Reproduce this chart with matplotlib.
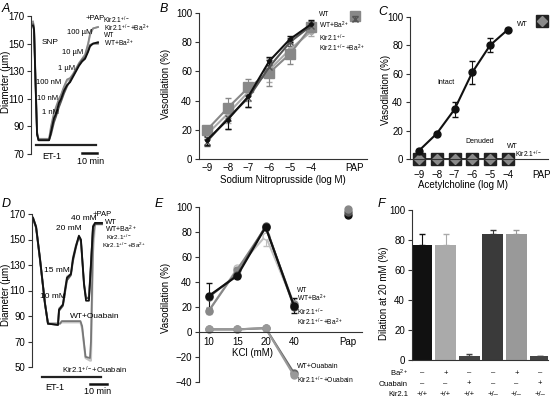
import matplotlib
matplotlib.use('Agg')
import matplotlib.pyplot as plt
import matplotlib.transforms as mtransforms

plt.rcParams['font.family'] = ['Liberation Sans', 'DejaVu Sans']
plt.rcParams['mathtext.default'] = 'regular'
plt.rcParams['font.size'] = 7

W, H = 553, 401

# ---- panel A: SNP diameter traces (time in min) ----
a_time = [0, 0.7, 1.7, 2.7, 3.7, 10.7, 12, 14, 15.3, 17.3, 18.7, 20.7, 22.7, 24.7,
          26.7, 28.7, 30.7, 32.7, 34.7, 36.7, 38, 40, 43.3]
a_wt = [163, 160, 120, 84, 80, 80, 86, 96, 99, 107, 110, 116, 120, 122,
        126, 130, 134, 137, 139, 144, 148, 150, 151]
a_wt_ba = [164, 161, 122, 85, 80, 80, 84, 93, 97, 104, 108, 114, 119, 123,
           127, 131, 135, 138, 140, 145, 149, 150, 150]
a_kir = [166, 162, 125, 86, 81, 81, 90, 100, 104, 110, 113, 119, 124, 125,
         128, 132, 136, 139, 142, 150, 157, 161, 162]
a_kir_ba = [165, 161, 123, 85, 80, 80, 88, 98, 102, 109, 112, 118, 123, 124,
            127, 131, 135, 138, 141, 149, 156, 161, 162]

# ---- panel B: SNP concentration response ----
log_conc = [-9, -8, -7, -6, -5, -4]
pap_b = -1.9
b_wt = [13, 27, 43, 67, 82, 92]
b_wt_err = [3, 6, 7, 3, 2, 3]
b_wt_ba = [12, 28, 42, 63, 80, 91]
b_wt_ba_err = [3, 7, 6, 5, 3, 3]
b_kir = [20, 35, 49, 59, 72, 90]
b_kir_err = [3, 7, 6, 9, 7, 3]
b_kir_ba = [17, 31, 46, 61, 75, 87]
b_kir_ba_err = [3, 6, 6, 8, 6, 3]
b_pap = [98, 96]

# ---- panel C: acetylcholine ----
pap_c = -2.1
c_wt = [6, 18, 35, 61, 80, 91]
c_wt_err = [1, 1, 5, 8, 5, 1]
c_denuded = [0, 0, 0, 0, 0, 0]
c_pap = 97

# ---- panel D: KCl diameter traces ----
d_time = [0.6, 2.4, 4.7, 7.6, 9.4, 15.3, 15.9, 18.2, 19.4, 20.6, 22.9, 24.1, 25.9,
          27.6, 28.8, 30.6, 31.8, 33.5, 34.7, 35.9, 37.1, 41.2]
d_wt = [167, 160, 135, 100, 84, 83, 95, 99, 110, 120, 123, 135, 145,
        153, 150, 115, 102, 102, 130, 160, 163, 163]
d_wt_ba = [166, 159, 134, 100, 84, 83, 94, 98, 108, 118, 122, 133, 144,
           152, 149, 116, 104, 104, 131, 160, 162, 162]
d_kir = [166, 160, 134, 101, 84, 84, 96, 99, 111, 121, 123, 136, 146,
         152, 148, 114, 104, 105, 132, 161, 163, 163]
d_oua_time = [0.6, 2.4, 4.7, 7.6, 9.4, 16.5, 17.5, 28.5, 29.5, 31.5, 34.1, 34.7,
              35.9, 37.1, 41.2]
d_wt_oua = [167, 160, 135, 100, 84, 84, 86, 86, 82, 58, 57, 70, 150, 163, 163]
d_kir_oua = [167, 160, 135, 100, 84, 84, 85, 85, 80, 57, 55, 55, 140, 162, 162]

# ---- panel E: KCl concentration response ----
kcl_pos = [1, 2, 3, 4]
kcl_labels = ['10', '15', '20', '40']
pap_e = 5.9
e_wt = [29, 45, 84, 21]
e_wt_err = [10, 2, 2, 6]
e_wt_ba = [28, 46, 85, 20]
e_kir = [17, 50, 84, 22]
e_kir_ba = [17, 51, 77, 22]
e_kir_ba_err = [3, 2, 8, 4]
e_wt_oua = [2, 2, 3, -33]
e_kir_oua = [2, 2, 3, -35]
e_pap = [94, 96, 99]

# ---- panel F: dilation at 20 mM ----
f_pos = [1, 2, 3, 4, 5, 6]
f_vals = [77, 77, 3, 84, 84, 2.5]
f_err = [7, 7, 1, 2.5, 3, 0.5]
f_colors = ['#111111', '#aaaaaa', '#444444', '#3a3a3a', '#999999', '#444444']
f_ba = ['–', '+', '–', '–', '+', '–']
f_oua = ['–', '–', '+', '–', '–', '+']
f_kir = ['+/+', '+/+', '+/+', '+/–', '+/–', '+/–']

KIR = r'Kir2.1$^{+/-}$'

fig = plt.figure(figsize=(W / 100, H / 100), dpi=100)


def px_axes(x0, y0, x1, y1):
    return fig.add_axes([x0 / W, 1 - y1 / H, (x1 - x0) / W, (y1 - y0) / H])


def px_text(x, y, s, **kw):
    kw.setdefault('fontsize', 5.5)
    kw.setdefault('va', 'center')
    fig.text(x / W, 1 - y / H, s, **kw)


def style(ax):
    for s in ['top', 'right']:
        ax.spines[s].set_visible(False)
    for s in ['left', 'bottom']:
        ax.spines[s].set_linewidth(0.8)
        ax.spines[s].set_color('#333333')
    ax.tick_params(labelsize=7, length=3, width=0.8, pad=2, color='#333333')


# ================= A =================
ax = px_axes(31, 16, 110, 154)
style(ax)
ax.spines['bottom'].set_visible(False)
ax.set_xticks([])
ax.set_ylim(70, 170)
ax.set_yticks([70, 90, 110, 130, 150, 170])
ax.set_xlim(-1.33, 51.3)
for y, c in [(a_kir_ba, '#bbbbbb'), (a_kir, '#888888'), (a_wt_ba, '#555555'), (a_wt, '#111111')]:
    ax.plot(a_time, y, color=c, lw=1.3)
ax.plot([2, 42], [76.5, 76.5], color='#222222', lw=1.6, clip_on=False)
ax.plot([32.7, 42.7], [71, 71], color='#111111', lw=1.8, clip_on=False)
px_text(42, 43, 'SNP', fontsize=6)
px_text(42, 113, '1 nM')
px_text(37, 99, '10 nM')
px_text(36, 82, '100 nM')
px_text(58, 69, '1 µM')
px_text(62, 52, '10 µM')
px_text(67, 32, '100 µM')
px_text(86, 19, '+PAP')
px_text(103, 20, KIR, fontsize=4.8)
px_text(104, 28, KIR + r'+Ba$^{2+}$', fontsize=4.8)
px_text(104, 35.5, 'WT', fontsize=4.8)
px_text(104, 43, r'WT+Ba$^{2+}$', fontsize=4.8)
px_text(52, 157, 'ET-1', fontsize=6.5, ha='center')
px_text(91, 161, '10 min', fontsize=6.5, ha='center')

# ================= B =================
ax = px_axes(199, 12.7, 367, 159.3)
style(ax)
ax.set_ylim(0, 100)
ax.set_xlim(-9.38, -1.3)
ax.set_yticks([0, 20, 40, 60, 80, 100])
ax.set_xticks(log_conc + [pap_b])
ax.set_xticklabels(['−9', '−8', '−7', '−6', '−5', '−4', 'PAP'])
ax.tick_params(axis='x', length=0, pad=3)
series_b = [(b_kir_ba, b_kir_ba_err, '#aaaaaa', 'o', 3),
            (b_kir, b_kir_err, '#888888', 's', 6.5),
            (b_wt_ba, b_wt_ba_err, '#555555', 'x', 4),
            (b_wt, b_wt_err, '#111111', 'o', 2.5)]
for y, e, c, m, ms in series_b:
    ax.errorbar(log_conc, y, yerr=e, color=c, lw=1.5, marker=m, ms=ms,
                capsize=2, elinewidth=0.8, clip_on=False)
ax.plot([pap_b], [b_pap[0]], 's', color='#888888', ms=6.5, clip_on=False)
ax.errorbar([pap_b], [b_pap[1]], yerr=2, color='#555555', marker='x', ms=4,
            capsize=2, elinewidth=0.8, clip_on=False)
px_text(319, 15, 'WT', fontsize=4.8)
px_text(319, 25, r'WT+Ba$^{2+}$', fontsize=4.8)
px_text(319, 38, KIR, fontsize=4.8)
px_text(319, 48, KIR + r'+Ba$^{2+}$', fontsize=4.8)
px_text(283, 180, 'Sodium Nitroprusside (log M)', fontsize=7, ha='center')

# ================= C =================
ax = px_axes(410, 16.7, 548, 159.3)
style(ax)
ax.set_ylim(0, 100)
ax.set_xlim(-9.5, -1.75)
ax.set_yticks([0, 20, 40, 60, 80, 100])
ax.set_xticks(log_conc + [pap_c])
ax.set_xticklabels(['−9', '−8', '−7', '−6', '−5', '−4', 'PAP'])
ax.tick_params(axis='x', length=0, pad=8)
ax.errorbar(log_conc, c_wt, yerr=c_wt_err, color='#111111', lw=1.5, marker='o',
            ms=5, capsize=2, elinewidth=0.8, clip_on=False)
ax.plot(log_conc, c_denuded, color='#111111', lw=1.2, clip_on=False)
ax.plot(log_conc, c_denuded, 's', color='#222222', ms=9, clip_on=False)
ax.plot(log_conc, c_denuded, 'D', color='#8a8a8a', ms=5.5, clip_on=False)
ax.plot([pap_c], [c_pap], 's', color='#222222', ms=9, clip_on=False)
ax.plot([pap_c], [c_pap], 'D', color='#8a8a8a', ms=5.5, clip_on=False)
px_text(517, 24, 'WT', fontsize=5)
px_text(437, 83, 'Intact', fontsize=5)
px_text(465, 142, 'Denuded', fontsize=5)
px_text(507, 147, 'WT', fontsize=5)
px_text(515, 154, KIR, fontsize=4.8)
px_text(463, 185, 'Acetylcholine (log M)', fontsize=7, ha='center')

# ================= D =================
ax = px_axes(32, 214, 110, 367)
style(ax)
ax.spines['bottom'].set_visible(False)
ax.set_xticks([])
ax.set_ylim(50, 170)
ax.set_yticks([50, 70, 90, 110, 130, 150, 170])
ax.set_xlim(0, 45.9)
ax.plot(d_oua_time, d_kir_oua, color='#c4c4c4', lw=1.5)
ax.plot(d_oua_time, d_wt_oua, color='#777777', lw=1.3)
ax.plot(d_time, d_kir, color='#aaaaaa', lw=1.3)
ax.plot(d_time, d_wt_ba, color='#555555', lw=1.3)
ax.plot(d_time, d_wt, color='#111111', lw=1.3)
ax.plot([5.9, 40.6], [42, 42], color='#222222', lw=1.6, clip_on=False)
ax.plot([34.1, 44.1], [36.5, 36.5], color='#111111', lw=1.8, clip_on=False)
px_text(40, 296, '10 mM', fontsize=6)
px_text(44, 270, '15 mM', fontsize=6)
px_text(56, 228, '20 mM', fontsize=6)
px_text(71, 218, '40 mM', fontsize=6)
px_text(93, 215, '+PAP', fontsize=5.5)
px_text(105, 222, 'WT', fontsize=5.5)
px_text(105, 229, r'WT+Ba$^{2+}$', fontsize=5)
px_text(106, 237, KIR, fontsize=4.6)
px_text(102, 245, KIR + r'+Ba$^{2+}$', fontsize=4.6)
px_text(70, 316, 'WT+Ouabain', fontsize=6)
px_text(62, 370, KIR + '+Ouabain', fontsize=5.5)
px_text(55, 388, 'ET-1', fontsize=6.5, ha='center')
px_text(98, 392, '10 min', fontsize=6.5, ha='center')

# ================= E =================
ax = px_axes(199, 207.3, 362, 381.7)
style(ax)
ax.spines['bottom'].set_position(('data', 0))
ax.set_ylim(-40, 100)
ax.set_xlim(0.65, 6.4)
ax.set_yticks([-40, -20, 0, 20, 40, 60, 80, 100])
ax.set_xticks(kcl_pos + [pap_e])
ax.set_xticklabels(kcl_labels + ['Pap'])
ax.tick_params(axis='x', length=0, pad=4)
series_e = [(e_wt_oua, None, '#666666', '#666666'),
            (e_kir_oua, None, '#999999', '#999999'),
            (e_kir_ba, e_kir_ba_err, '#c0c0c0', 'white'),
            (e_kir, None, '#888888', '#888888'),
            (e_wt_ba, None, '#555555', '#555555'),
            (e_wt, e_wt_err, '#111111', '#111111')]
for y, e, c, fc in series_e:
    ax.errorbar(kcl_pos, y, yerr=e, color=c, lw=1.5, marker='o', ms=5, mfc=fc,
                mec=c, capsize=2, elinewidth=0.8, clip_on=False)
for v, c in zip(e_pap, ['#111111', '#555555', '#888888']):
    ax.plot([pap_e], [v], 'o', color=c, ms=5, clip_on=False)
px_text(297, 290, 'WT', fontsize=4.8)
px_text(297, 298, r'WT+Ba$^{2+}$', fontsize=4.8)
px_text(297, 312, KIR, fontsize=4.8)
px_text(297, 322, KIR + r'+Ba$^{2+}$', fontsize=4.8)
px_text(297, 367, 'WT+Ouabain', fontsize=5)
px_text(297, 380, KIR + '+Ouabain', fontsize=4.8)
px_text(252, 353, 'KCl (mM)', fontsize=7, ha='center')

# ================= F =================
ax = px_axes(412, 210, 548, 360)
style(ax)
ax.set_ylim(0, 100)
ax.set_xlim(0.58, 6.34)
ax.set_yticks([0, 20, 40, 60, 80, 100])
ax.set_xticks([])
ax.bar(f_pos, f_vals, width=0.88, color=f_colors)
for x, v, e, c in zip(f_pos, f_vals, f_err, f_colors):
    ax.errorbar([x], [v], yerr=[[0], [e]], color=c, capsize=2.5, elinewidth=0.8)
tr = mtransforms.blended_transform_factory(ax.transData, ax.transAxes)
for x, b, o, k in zip(f_pos, f_ba, f_oua, f_kir):
    ax.text(x, -0.087, b, transform=tr, ha='center', va='center', fontsize=5.5)
    ax.text(x, -0.16, o, transform=tr, ha='center', va='center', fontsize=5.5)
    ax.text(x, -0.233, k, transform=tr, ha='center', va='center', fontsize=5.5)
px_text(408, 373, r'Ba$^{2+}$', fontsize=5.5, ha='right')
px_text(408, 384, 'Ouabain', fontsize=5.5, ha='right')
px_text(408, 395, 'Kir2.1', fontsize=5.5, ha='right')

# ---- y labels and panel letters ----
px_text(6, 82, 'Diameter (µm)', fontsize=7, rotation=90, ha='center')
px_text(6, 295, 'Diameter (µm)', fontsize=7, rotation=90, ha='center')
px_text(166, 84, 'Vasodilation (%)', fontsize=7, rotation=90, ha='center')
px_text(166, 298, 'Vasodilation (%)', fontsize=7, rotation=90, ha='center')
px_text(386, 90, 'Vasodilation (%)', fontsize=7, rotation=90, ha='center')
px_text(384, 293, 'Dilation at 20 mM (%)', fontsize=7, rotation=90, ha='center')

for x, y, s in [(2, 9, 'A'), (160, 9, 'B'), (378, 12, 'C'),
                (2, 204, 'D'), (155, 204, 'E'), (378, 204, 'F')]:
    px_text(x, y, s, fontsize=9, style='italic')

fig.savefig('out.png', dpi=100)
